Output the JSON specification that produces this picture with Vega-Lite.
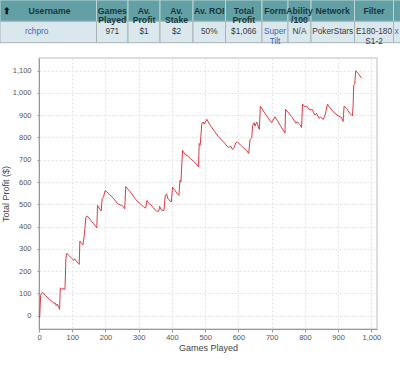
{
  "$schema": "https://vega.github.io/schema/vega-lite/v6.json",
  "width": 338,
  "height": 271,
  "autosize": "none",
  "padding": {"left": 39, "top": 58, "right": 23, "bottom": 41},
  "background": "white",
  "config": {
    "view": {"stroke": "#d2d2d2", "strokeWidth": 1.5},
    "font": "Liberation Sans"
  },
  "datasets": {
    "profit": [
      {"games": 0, "profit": 0}, {"games": 2, "profit": -8}, {"games": 5, "profit": 92}, {"games": 10, "profit": 105},
      {"games": 20, "profit": 90}, {"games": 30, "profit": 75}, {"games": 40, "profit": 62}, {"games": 45, "profit": 55},
      {"games": 48, "profit": 58}, {"games": 52, "profit": 45}, {"games": 55, "profit": 52}, {"games": 62, "profit": 28},
      {"games": 64, "profit": 125}, {"games": 68, "profit": 118}, {"games": 72, "profit": 122}, {"games": 78, "profit": 118},
      {"games": 79, "profit": 160}, {"games": 81, "profit": 258}, {"games": 84, "profit": 280}, {"games": 90, "profit": 270},
      {"games": 100, "profit": 255}, {"games": 104, "profit": 248}, {"games": 107, "profit": 255}, {"games": 115, "profit": 240},
      {"games": 121, "profit": 230}, {"games": 123, "profit": 335}, {"games": 128, "profit": 325}, {"games": 132, "profit": 318},
      {"games": 134, "profit": 335}, {"games": 137, "profit": 370}, {"games": 141, "profit": 442}, {"games": 145, "profit": 448},
      {"games": 155, "profit": 430}, {"games": 165, "profit": 412}, {"games": 174, "profit": 394}, {"games": 176, "profit": 495},
      {"games": 183, "profit": 478}, {"games": 187, "profit": 470}, {"games": 190, "profit": 525}, {"games": 194, "profit": 532},
      {"games": 199, "profit": 562}, {"games": 210, "profit": 548}, {"games": 225, "profit": 525}, {"games": 237, "profit": 502},
      {"games": 245, "profit": 497}, {"games": 250, "profit": 495}, {"games": 258, "profit": 480}, {"games": 261, "profit": 580},
      {"games": 275, "profit": 555}, {"games": 286, "profit": 532}, {"games": 295, "profit": 515}, {"games": 306, "profit": 500},
      {"games": 314, "profit": 490}, {"games": 321, "profit": 483}, {"games": 325, "profit": 517}, {"games": 330, "profit": 505},
      {"games": 337, "profit": 497}, {"games": 346, "profit": 480}, {"games": 354, "profit": 470}, {"games": 360, "profit": 468},
      {"games": 363, "profit": 490}, {"games": 368, "profit": 475}, {"games": 376, "profit": 472}, {"games": 380, "profit": 540},
      {"games": 384, "profit": 547}, {"games": 388, "profit": 525}, {"games": 398, "profit": 510}, {"games": 402, "profit": 577},
      {"games": 408, "profit": 565}, {"games": 416, "profit": 548}, {"games": 421, "profit": 540}, {"games": 424, "profit": 607},
      {"games": 427, "profit": 600}, {"games": 432, "profit": 742}, {"games": 440, "profit": 722}, {"games": 447, "profit": 718},
      {"games": 456, "profit": 705}, {"games": 468, "profit": 690}, {"games": 480, "profit": 668}, {"games": 482, "profit": 773},
      {"games": 485, "profit": 765}, {"games": 490, "profit": 863}, {"games": 494, "profit": 870}, {"games": 497, "profit": 860},
      {"games": 505, "profit": 881}, {"games": 515, "profit": 855}, {"games": 540, "profit": 803}, {"games": 555, "profit": 780},
      {"games": 570, "profit": 755}, {"games": 577, "profit": 761}, {"games": 582, "profit": 746}, {"games": 587, "profit": 755},
      {"games": 592, "profit": 776}, {"games": 597, "profit": 780}, {"games": 610, "profit": 761}, {"games": 625, "profit": 740},
      {"games": 631, "profit": 728}, {"games": 635, "profit": 791}, {"games": 640, "profit": 800}, {"games": 643, "profit": 855},
      {"games": 647, "profit": 866}, {"games": 650, "profit": 851}, {"games": 655, "profit": 870}, {"games": 663, "profit": 836},
      {"games": 666, "profit": 941}, {"games": 680, "profit": 908}, {"games": 700, "profit": 866}, {"games": 710, "profit": 893},
      {"games": 740, "profit": 820}, {"games": 742, "profit": 926}, {"games": 760, "profit": 894}, {"games": 773, "profit": 864},
      {"games": 777, "profit": 871}, {"games": 785, "profit": 857}, {"games": 790, "profit": 845}, {"games": 793, "profit": 950},
      {"games": 800, "profit": 938}, {"games": 805, "profit": 941}, {"games": 815, "profit": 923}, {"games": 822, "profit": 926},
      {"games": 830, "profit": 901}, {"games": 835, "profit": 908}, {"games": 843, "profit": 886}, {"games": 847, "profit": 893},
      {"games": 855, "profit": 881}, {"games": 860, "profit": 896}, {"games": 863, "profit": 916}, {"games": 868, "profit": 950},
      {"games": 873, "profit": 938}, {"games": 885, "profit": 916}, {"games": 900, "profit": 897}, {"games": 910, "profit": 890},
      {"games": 915, "profit": 872}, {"games": 918, "profit": 941}, {"games": 925, "profit": 931}, {"games": 935, "profit": 909},
      {"games": 943, "profit": 897}, {"games": 945, "profit": 938}, {"games": 947, "profit": 1036}, {"games": 950, "profit": 1040},
      {"games": 953, "profit": 1100}, {"games": 960, "profit": 1088}, {"games": 971, "profit": 1066}
    ],
    "grid": [
      {"row": "header", "start": 0, "end": 96.5}, {"row": "header", "start": 96.5, "end": 128}, {"row": "header", "start": 128, "end": 160},
      {"row": "header", "start": 160, "end": 193}, {"row": "header", "start": 193, "end": 225.5}, {"row": "header", "start": 225.5, "end": 262},
      {"row": "header", "start": 262, "end": 288}, {"row": "header", "start": 288, "end": 311}, {"row": "header", "start": 311, "end": 354.5},
      {"row": "header", "start": 354.5, "end": 393.5}, {"row": "header", "start": 393.5, "end": 401},
      {"row": "data", "start": 0, "end": 96.5}, {"row": "data", "start": 96.5, "end": 128}, {"row": "data", "start": 128, "end": 160},
      {"row": "data", "start": 160, "end": 193}, {"row": "data", "start": 193, "end": 225.5}, {"row": "data", "start": 225.5, "end": 262},
      {"row": "data", "start": 262, "end": 288}, {"row": "data", "start": 288, "end": 311}, {"row": "data", "start": 311, "end": 354.5},
      {"row": "data", "start": 354.5, "end": 393.5}, {"row": "data", "start": 393.5, "end": 401}
    ],
    "cells": [
      {"row": "header", "center": 7, "text": "⬆", "kind": "arrow"},
      {"row": "header", "center": 49.5, "text": "Username", "kind": "head"},
      {"row": "header", "center": 112.3, "text": ["Games", "Played"], "kind": "head"},
      {"row": "header", "center": 144, "text": ["Av.", "Profit"], "kind": "head"},
      {"row": "header", "center": 176.5, "text": ["Av.", "Stake"], "kind": "head"},
      {"row": "header", "center": 209.3, "text": "Av. ROI", "kind": "head"},
      {"row": "header", "center": 243.8, "text": ["Total", "Profit"], "kind": "head"},
      {"row": "header", "center": 275, "text": "Form", "kind": "head"},
      {"row": "header", "center": 299.5, "text": ["Ability", "/100"], "kind": "head"},
      {"row": "header", "center": 332.7, "text": "Network", "kind": "head"},
      {"row": "header", "center": 374, "text": "Filter", "kind": "head"},
      {"row": "data", "center": 36.7, "text": "rchpro", "kind": "link"},
      {"row": "data", "center": 112.3, "text": "971", "kind": "plain"},
      {"row": "data", "center": 144, "text": "$1", "kind": "plain"},
      {"row": "data", "center": 176.5, "text": "$2", "kind": "plain"},
      {"row": "data", "center": 209.3, "text": "50%", "kind": "plain"},
      {"row": "data", "center": 243.8, "text": "$1,066", "kind": "plain"},
      {"row": "data", "center": 275, "text": ["Super", "Tilt"], "kind": "link"},
      {"row": "data", "center": 299.5, "text": "N/A", "kind": "plain"},
      {"row": "data", "center": 332.7, "text": "PokerStars", "kind": "plain"},
      {"row": "data", "center": 374, "text": ["E180-180", "S1-2"], "kind": "plain"},
      {"row": "data", "center": 396.7, "text": "x", "kind": "link"}
    ]
  },
  "layer": [
    {
      "data": {"name": "profit"},
      "mark": {"type": "line", "color": "#de3a44", "strokeWidth": 1, "clip": true},
      "encoding": {
        "x": {
          "field": "games", "type": "quantitative",
          "scale": {"domain": [0, 1017], "nice": false, "zero": false},
          "axis": {
            "title": "Games Played", "values": [0, 100, 200, 300, 400, 500, 600, 700, 800, 900, 1000],
            "format": ",d", "labelFont": "Liberation Sans", "labelFontSize": 7.5, "labelColor": "#555555",
            "titleFont": "Liberation Sans", "titleFontSize": 9, "titleFontWeight": "normal", "titleColor": "#444444",
            "tickSize": 3, "tickColor": "#999999", "domainColor": "#999999", "labelPadding": 1.5, "titlePadding": 2,
            "grid": true, "gridColor": "#e2e2e2", "gridDash": [2, 2], "labelFlush": false
          }
        },
        "y": {
          "field": "profit", "type": "quantitative",
          "scale": {"domain": [-60, 1157], "nice": false, "zero": false},
          "axis": {
            "title": "Total Profit ($)", "values": [0, 100, 200, 300, 400, 500, 600, 700, 800, 900, 1000, 1100],
            "format": ",d", "labelFont": "Liberation Sans", "labelFontSize": 7.5, "labelColor": "#555555",
            "titleFont": "Liberation Sans", "titleFontSize": 9, "titleFontWeight": "normal", "titleColor": "#444444",
            "tickSize": 2, "tickColor": "#999999", "domainColor": "#999999", "labelPadding": 6, "titlePadding": 2,
            "grid": true, "gridColor": "#e2e2e2", "gridDash": [2, 2]
          }
        }
      }
    },
    {
      "mark": {"type": "rule", "color": "#7474b8", "strokeDash": [2, 2], "strokeWidth": 1},
      "encoding": {
        "y": {"datum": 0, "type": "quantitative", "scale": {"domain": [-60, 1157], "nice": false, "zero": false}, "axis": null}
      }
    },
    {
      "data": {"name": "grid"},
      "transform": [{"filter": "datum.row === 'header'"}],
      "mark": {"type": "rect", "fill": "#62a0a5", "stroke": "#b9d5d7", "strokeWidth": 1},
      "encoding": {
        "x": {"field": "start", "type": "quantitative", "scale": {"domain": [39, 377], "nice": false, "zero": false}, "axis": null},
        "x2": {"field": "end"},
        "y": {"field": "row", "type": "nominal", "scale": {"type": "band", "domain": ["header", "data"], "range": [-58, -15.3], "paddingInner": 0, "paddingOuter": 0}, "axis": null}
      }
    },
    {
      "data": {"name": "grid"},
      "transform": [{"filter": "datum.row === 'data'"}],
      "mark": {"type": "rect", "fill": "#dae8ee", "stroke": "#a8b3b6", "strokeWidth": 1},
      "encoding": {
        "x": {"field": "start", "type": "quantitative", "scale": {"domain": [39, 377], "nice": false, "zero": false}, "axis": null},
        "x2": {"field": "end"},
        "y": {"field": "row", "type": "nominal", "scale": {"type": "band", "domain": ["header", "data"], "range": [-58, -15.3], "paddingInner": 0, "paddingOuter": 0}, "axis": null}
      }
    },
    {
      "data": {"name": "cells"},
      "transform": [{"filter": "datum.row === 'header'"}],
      "mark": {"type": "text", "font": "Liberation Sans", "fontSize": 8.7, "fontWeight": "bold", "lineHeight": 9, "align": "center", "baseline": "middle"},
      "encoding": {
        "x": {"field": "center", "type": "quantitative", "scale": {"domain": [39, 377], "nice": false, "zero": false}, "axis": null},
        "y": {"field": "row", "type": "nominal", "scale": {"type": "band", "domain": ["header", "data"], "range": [-58, -15.3], "paddingInner": 0, "paddingOuter": 0}, "axis": null},
        "text": {"field": "text", "type": "nominal"},
        "color": {"field": "kind", "type": "nominal", "scale": {"domain": ["head", "plain", "link", "arrow"], "range": ["#17373c", "#3a3a3a", "#3a66c2", "#111111"]}, "legend": null}
      }
    },
    {
      "data": {"name": "cells"},
      "transform": [{"filter": "datum.row === 'data'"}],
      "mark": {"type": "text", "font": "Liberation Sans", "fontSize": 8.3, "lineHeight": 9.5, "align": "center", "baseline": "middle"},
      "encoding": {
        "x": {"field": "center", "type": "quantitative", "scale": {"domain": [39, 377], "nice": false, "zero": false}, "axis": null},
        "y": {"field": "row", "type": "nominal", "scale": {"type": "band", "domain": ["header", "data"], "range": [-58, -15.3], "paddingInner": 0, "paddingOuter": 0}, "axis": null},
        "text": {"field": "text", "type": "nominal"},
        "color": {"field": "kind", "type": "nominal", "scale": {"domain": ["head", "plain", "link", "arrow"], "range": ["#17373c", "#3a3a3a", "#3a66c2", "#111111"]}, "legend": null}
      }
    }
  ],
  "resolve": {"scale": {"x": "independent", "y": "independent", "color": "independent"}}
}
